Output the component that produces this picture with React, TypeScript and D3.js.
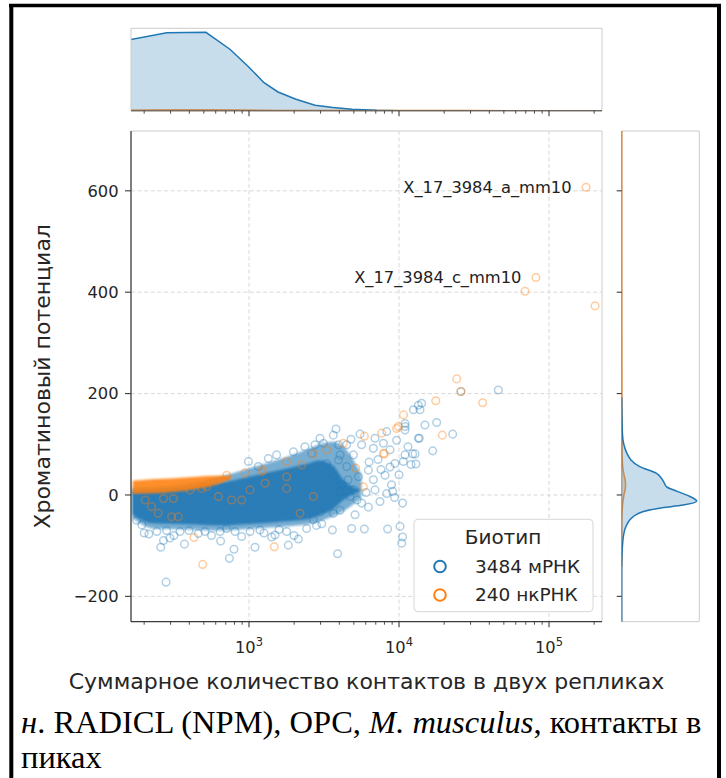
import React from "react";
import * as d3 from "d3";

// ---------- data ----------
// mRNA (blue) individual points: total contacts, chromatin potential
const mrnaContacts = [280, 740, 794, 1096, 258, 371, 215, 269, 297, 647, 1416, 1828, 2133, 3055, 3597, 4831, 5875, 8395, 10162, 10568, 10423, 3899, 4046, 5093, 6252, 3648, 5636, 7464, 10568, 9078, 8279, 6918, 6745, 8072, 8710, 9397, 10691, 12331, 12972, 13459, 12474, 13459, 10965, 10965, 6918, 6745, 5358, 6252, 4966, 4477, 5636, 3945, 3648, 4046, 4710, 3133, 2618, 4046, 3296, 4477, 14158, 13804, 14894, 17824, 13646, 22803, 16788, 12794, 10965, 9638, 7870, 8710, 10965, 45920, 25882, 193, 243, 347, 459, 509, 641, 807, 893, 1016, 1183, 1489, 1782, 2421, 2685, 2972, 991, 1153, 1346, 1528, 1977, 2360, 2754, 2972, 3648, 3945, 8279, 178, 200, 282, 316, 398, 562, 708, 1259, 1585, 1995, 2818, 4169, 4571, 5012, 5248, 6026, 6310, 7244, 7586, 8913, 9333, 10000, 11482, 12023, 5495, 4786, 3802];
const mrnaPotential = [-172, -125, -107, -103, -103, -97, -77, -90, -85, -91, -83, -99, -87, -57, -69, -66, -67, -67, -62, -83, -95, -116, -30, -39, -24, -36, -16, -13, -16, 7, 3, 10, 30, 39, 55, 62, 66, 81, 61, 112, 168, 177, 141, 128, 112, 92, 36, 49, 79, 99, 99, 69, 36, 7, -3, 102, 82, 79, 62, 56, 181, 168, 138, 143, 112, 120, 87, 81, 79, 108, 102, 89, 135, 207, 204, -59, -72, -72, -76, -72, -72, -72, -82, -72, -69, -79, -72, -66, -49, -33, 66, 56, 72, 79, 85, 95, 99, 112, 118, 99, 125, -50, -75, -70, -80, -70, -80, -66, -75, -68, -80, -60, 20, 30, 10, -10, 5, 65, 70, 50, 20, -5, 40, 95, 60, 120, 110, 130];

// ncRNA (orange) individual points
const ncrnaContacts = [176600, 81850, 69180, 202800, 24270, 25880, 36140, 19450, 17580, 10720, 9638, 5875, 7674, 7980, 5140, 5781, 4256, 3296, 2685, 2685, 2188, 2244, 1782, 1247, 1782, 1279, 1782, 766, 893, 624, 483, 338, 305, 248, 224, 203, 313, 269, 405, 522, 1016, 1213, 940, 710, 491, 430, 1476, 7870, 9908];
const ncrnaPotential = [607, 429, 402, 373, 229, 204, 182, 118, 186, 158, 131, 116, 122, 81, 53, 16, 102, 89, 81, -3, -36, 59, 66, 49, 13, 23, 36, -10, -10, -3, 13, -43, -43, -36, -23, -10, -7, -7, 10, 16, 10, 46, 43, 39, -137, -84, -102, 82, 135];

// dense core of the mRNA cloud (envelope)
const coreContacts = [166, 229, 389, 646, 1072, 1778, 2455, 2951, 3631, 4266, 5623];
const coreOuterHigh = [14, 16, 22, 36, 55, 75, 90, 100, 105, 95, 40];
const coreOuterLow = [-45, -66, -68, -70, -66, -62, -58, -52, -42, -32, -5];
const coreInnerHigh = [8, 10, 14, 24, 38, 52, 62, 68, 58, 30, 10];
const coreInnerLow = [-38, -56, -58, -60, -57, -52, -48, -40, -28, -10, 10];

// dense core of the ncRNA cloud
const ncCoreContacts = [168, 224, 316, 447, 603, 759];
const ncCoreHigh = [28, 31, 33, 36, 38, 38];
const ncCoreLow = [2, 3, 6, 12, 20, 32];

// top marginal KDE (contacts, relative density)
const topKdeContacts = [163, 283, 516, 746, 984, 1259, 1560, 2056, 2754, 3631, 4864, 7079, 10000, 225600];
const topKdeMrna = [0.91, 0.996, 1.0, 0.785, 0.568, 0.357, 0.239, 0.146, 0.07, 0.041, 0.02, 0.006, 0, 0];
const topKdeNcContacts = [163, 300, 600, 1500, 5000, 30000, 225600];
const topKdeNcrna = [0.006, 0.008, 0.008, 0.004, 0.002, 0.001, 0];

// right marginal KDE (potential, relative density)
const rightKdeMrnaVals = [-250, -150, -115, -82, -59, -43, -33, -26, -20, -12, -3, 7, 16, 23, 33, 43, 56, 83, 120, 193];
const rightKdeMrna = [0, 0, 0.005, 0.022, 0.067, 0.15, 0.28, 0.5, 0.82, 1.0, 0.91, 0.74, 0.6, 0.57, 0.53, 0.46, 0.24, 0.067, 0.01, 0];
const rightKdeNcVals = [-140, -60, -20, 0, 15, 25, 40, 60, 100, 300, 718];
const rightKdeNcrna = [0, 0, 0.01, 0.03, 0.05, 0.05, 0.03, 0.01, 0.003, 0.001, 0];

const yTicks = [-200, 0, 200, 400, 600];
const xMajorExps = [3, 4, 5];
const legendLabels = ["3484 мРНК", "240 нкРНК"];
const annotationLabels = ["X_17_3984_a_mm10", "X_17_3984_c_mm10"];
const annotationIdx = [0, 1];

const BLUE = "#1f77b4";
const ORANGE = "#ff7f0e";
const FONT = "DejaVu Sans, sans-serif";

export default function App() {
  // axes boxes
  const main = { l: 131, r: 602, t: 131, b: 621.7 };
  const top = { l: 131, r: 602, t: 28.3, b: 110.7 };
  const right = { l: 621.7, r: 699.3, t: 131, b: 621.7 };

  const x = d3.scaleLog().domain([163.4, 225600]).range([main.l, main.r]);
  const y = d3.scaleLinear().domain([-250, 718]).range([main.b, main.t]);
  const yTop = d3.scaleLinear().domain([0, 1.052]).range([top.b, top.t]);
  const xRight = d3.scaleLinear().domain([0, 1.035]).range([right.l, right.r]);

  const allTicks = x.ticks();
  const majors = xMajorExps.map((e) => Math.pow(10, e));
  const minors = allTicks.filter((t) => !majors.some((m) => Math.abs(m - t) < 1e-6));

  const bandArea = (xs: number[], lo: number[], hi: number[]) =>
    d3
      .area<number>()
      .x((_, i) => x(xs[i]))
      .y0((_, i) => y(lo[i]))
      .y1((_, i) => y(hi[i]))
      .curve(d3.curveMonotoneX)(xs) || "";

  const topArea = (xs: number[], ds: number[]) =>
    d3
      .area<number>()
      .x((_, i) => x(xs[i]))
      .y0(yTop(0))
      .y1((d) => yTop(d))(ds) || "";
  const topLine = (xs: number[], ds: number[]) =>
    d3
      .line<number>()
      .x((_, i) => x(xs[i]))
      .y((d) => yTop(d))(ds) || "";

  const rightArea = (vs: number[], ds: number[]) =>
    d3
      .area<number>()
      .y((_, i) => y(vs[i]))
      .x0(xRight(0))
      .x1((d) => xRight(d))
      .curve(d3.curveMonotoneY)(ds) || "";
  const rightLine = (vs: number[], ds: number[]) =>
    d3
      .line<number>()
      .y((_, i) => y(vs[i]))
      .x((d) => xRight(d))
      .curve(d3.curveMonotoneY)(ds) || "";

  const dark = "#3a3a3a";
  const light = "#cccccc";

  return (
    <svg
      width={726}
      height={778}
      style={{ position: "absolute", left: 0, top: 0, background: "#fff" }}
      fontFamily={FONT}
    >
      <defs>
        <clipPath id="clipMain">
          <rect x={main.l} y={main.t} width={main.r - main.l} height={main.b - main.t} />
        </clipPath>
        <clipPath id="clipTop">
          <rect x={top.l} y={top.t} width={top.r - top.l} height={top.b - top.t} />
        </clipPath>
        <clipPath id="clipRight">
          <rect x={right.l} y={right.t} width={right.r - right.l} height={right.b - right.t} />
        </clipPath>
        <filter id="soft" x="-5%" y="-5%" width="110%" height="110%">
          <feGaussianBlur stdDeviation="1.2" />
        </filter>
      </defs>
      <rect x={0} y={0} width={726} height={778} fill="#fff" />

      {/* outer frame */}
      <line x1={9} x2={721} y1={5.5} y2={5.5} stroke="#000" strokeWidth={3.5} />
      <line x1={11.3} x2={11.3} y1={4} y2={778} stroke="#000" strokeWidth={4} />
      <line x1={719} x2={719} y1={4} y2={778} stroke="#000" strokeWidth={4} />

      {/* ---------- main axes ---------- */}
      <g>
        {/* grid */}
        {yTicks.map((t) => (
          <line key={"gy" + t} x1={main.l} x2={main.r} y1={y(t)} y2={y(t)} stroke="#d4d4d4" strokeWidth={0.9} strokeDasharray="4,2.6" />
        ))}
        {majors.map((t) => (
          <line key={"gx" + t} x1={x(t)} x2={x(t)} y1={main.t} y2={main.b} stroke="#d4d4d4" strokeWidth={0.9} strokeDasharray="4,2.6" />
        ))}

        <g clipPath="url(#clipMain)">
          {/* mRNA */}
          <g filter="url(#soft)">
            <path d={bandArea(coreContacts, coreOuterLow, coreOuterHigh)} fill={BLUE} fillOpacity={0.6} />
            <path d={bandArea(coreContacts, coreInnerLow, coreInnerHigh)} fill={BLUE} fillOpacity={0.85} />
          </g>
          {mrnaContacts.map((c, i) => (
            <circle key={"m" + i} cx={x(c)} cy={y(mrnaPotential[i])} r={3.8} fill="none" stroke={BLUE} strokeOpacity={0.35} strokeWidth={1.5} />
          ))}
          {/* ncRNA */}
          <g filter="url(#soft)">
            <path d={bandArea(ncCoreContacts, ncCoreLow, ncCoreHigh)} fill={ORANGE} fillOpacity={0.88} />
          </g>
          {ncrnaContacts.map((c, i) => (
            <circle key={"n" + i} cx={x(c)} cy={y(ncrnaPotential[i])} r={3.8} fill="none" stroke={ORANGE} strokeOpacity={0.4} strokeWidth={1.5} />
          ))}
        </g>

        {/* annotations */}
        {annotationIdx.map((k, i) => (
          <text key={"an" + i} x={x(ncrnaContacts[k]) - 14.5} y={y(ncrnaPotential[k])} dy="0.36em" textAnchor="end" fontSize={16.3} fill="#222">
            {annotationLabels[i]}
          </text>
        ))}

        {/* spines */}
        <line x1={main.l} x2={main.r} y1={main.t} y2={main.t} stroke={light} strokeWidth={1} />
        <line x1={main.r} x2={main.r} y1={main.t} y2={main.b} stroke={light} strokeWidth={1} />
        <line x1={main.l} x2={main.l} y1={main.t} y2={main.b} stroke={dark} strokeWidth={1.3} />
        <line x1={main.l} x2={main.r} y1={main.b} y2={main.b} stroke={dark} strokeWidth={1.3} />

        {/* y ticks */}
        {yTicks.map((t) => (
          <g key={"yt" + t}>
            <line x1={main.l - 6} x2={main.l} y1={y(t)} y2={y(t)} stroke={dark} strokeWidth={1.1} />
            <text x={main.l - 12.5} y={y(t)} dy="0.36em" textAnchor="end" fontSize={16.3} fill="#262626">
              {t < 0 ? "\u2212" + Math.abs(t) : String(t)}
            </text>
          </g>
        ))}
        {/* x ticks */}
        {minors.map((t) => (
          <line key={"xm" + t} x1={x(t)} x2={x(t)} y1={main.b} y2={main.b + 3} stroke={dark} strokeWidth={0.9} />
        ))}
        {majors.map((t, i) => (
          <g key={"xt" + t}>
            <line x1={x(t)} x2={x(t)} y1={main.b} y2={main.b + 5.5} stroke={dark} strokeWidth={1.1} />
            <text x={x(t)} y={652.5} textAnchor="middle" fontSize={16.3} fill="#262626">
              10
              <tspan dy={-7} fontSize={11.5}>
                {xMajorExps[i]}
              </tspan>
            </text>
          </g>
        ))}

        {/* axis labels */}
        <text x={(main.l + main.r) / 2} y={689} textAnchor="middle" fontSize={22} fill="#262626">
          Суммарное количество контактов в двух репликах
        </text>
        <text transform={`translate(49.5, ${(main.t + main.b) / 2}) rotate(-90)`} textAnchor="middle" fontSize={22} fill="#262626">
          Хроматиновый потенциал
        </text>

        {/* legend */}
        <g>
          <rect x={414} y={519.3} width={179} height={92.4} rx={4} fill="#fff" fillOpacity={0.85} stroke="#d6d6d6" strokeWidth={1} />
          <text x={503} y={543.5} textAnchor="middle" fontSize={20} fill="#262626">
            Биотип
          </text>
          {legendLabels.map((lab, i) => (
            <g key={"lg" + i}>
              <circle cx={440} cy={566.5 + i * 28.5} r={5.8} fill="none" stroke={i === 0 ? BLUE : ORANGE} strokeWidth={2} />
              <text x={475} y={573 + i * 28.3} fontSize={18.5} fill="#262626">
                {lab}
              </text>
            </g>
          ))}
        </g>
      </g>

      {/* ---------- top marginal ---------- */}
      <g>
        <g clipPath="url(#clipTop)">
          <path d={topArea(topKdeNcContacts, topKdeNcrna)} fill={ORANGE} fillOpacity={0.25} />
          <path d={topLine(topKdeNcContacts, topKdeNcrna)} fill="none" stroke={ORANGE} strokeWidth={1.5} />
          <path d={topArea(topKdeContacts, topKdeMrna)} fill={BLUE} fillOpacity={0.25} />
          <path d={topLine(topKdeContacts, topKdeMrna)} fill="none" stroke={BLUE} strokeWidth={1.5} />
        </g>
        <line x1={top.l} x2={top.r} y1={top.t} y2={top.t} stroke={light} />
        <line x1={top.l} x2={top.l} y1={top.t} y2={top.b} stroke={light} />
        <line x1={top.r} x2={top.r} y1={top.t} y2={top.b} stroke={light} />
        <line x1={top.l} x2={top.r} y1={top.b} y2={top.b} stroke="#6d6257" strokeWidth={1.4} strokeOpacity={0.85} />
        {minors.map((t) => (
          <line key={"txm" + t} x1={x(t)} x2={x(t)} y1={top.b} y2={top.b + 3} stroke={dark} strokeWidth={0.9} />
        ))}
        {majors.map((t) => (
          <line key={"txM" + t} x1={x(t)} x2={x(t)} y1={top.b} y2={top.b + 5.5} stroke={dark} strokeWidth={1.1} />
        ))}
      </g>

      {/* ---------- right marginal ---------- */}
      <g>
        <line x1={right.l} x2={right.r} y1={right.t} y2={right.t} stroke={light} />
        <line x1={right.r} x2={right.r} y1={right.t} y2={right.b} stroke={light} />
        <line x1={right.l} x2={right.r} y1={right.b} y2={right.b} stroke={light} />
        <g clipPath="url(#clipRight)">
          <path d={rightArea(rightKdeNcVals, rightKdeNcrna)} fill={ORANGE} fillOpacity={0.25} />
          <path d={rightLine(rightKdeNcVals, rightKdeNcrna)} fill="none" stroke={ORANGE} strokeWidth={1.6} strokeOpacity={0.8} />
          <path d={rightArea(rightKdeMrnaVals, rightKdeMrna)} fill={BLUE} fillOpacity={0.25} />
          <path d={rightLine(rightKdeMrnaVals, rightKdeMrna)} fill="none" stroke={BLUE} strokeWidth={1.5} />
        </g>
        <line x1={right.l} x2={right.l} y1={right.t} y2={right.b} stroke="#555" strokeWidth={1.2} strokeOpacity={0.55} />
        {yTicks.map((t) => (
          <line key={"ryt" + t} x1={right.l - 5} x2={right.l} y1={y(t)} y2={y(t)} stroke={dark} strokeWidth={1.1} />
        ))}
      </g>

      {/* ---------- caption ---------- */}
      <text x={21} y={733} fontFamily="Liberation Serif, Times New Roman, serif" fontSize={32.5} fill="#000">
        <tspan fontStyle="italic">н</tspan>. RADICL (NPM), OPC, <tspan fontStyle="italic">M. musculus</tspan>, контакты в
      </text>
      <text x={21} y={768} fontFamily="Liberation Serif, Times New Roman, serif" fontSize={32.5} fill="#000">
        пиках
      </text>
    </svg>
  );
}
